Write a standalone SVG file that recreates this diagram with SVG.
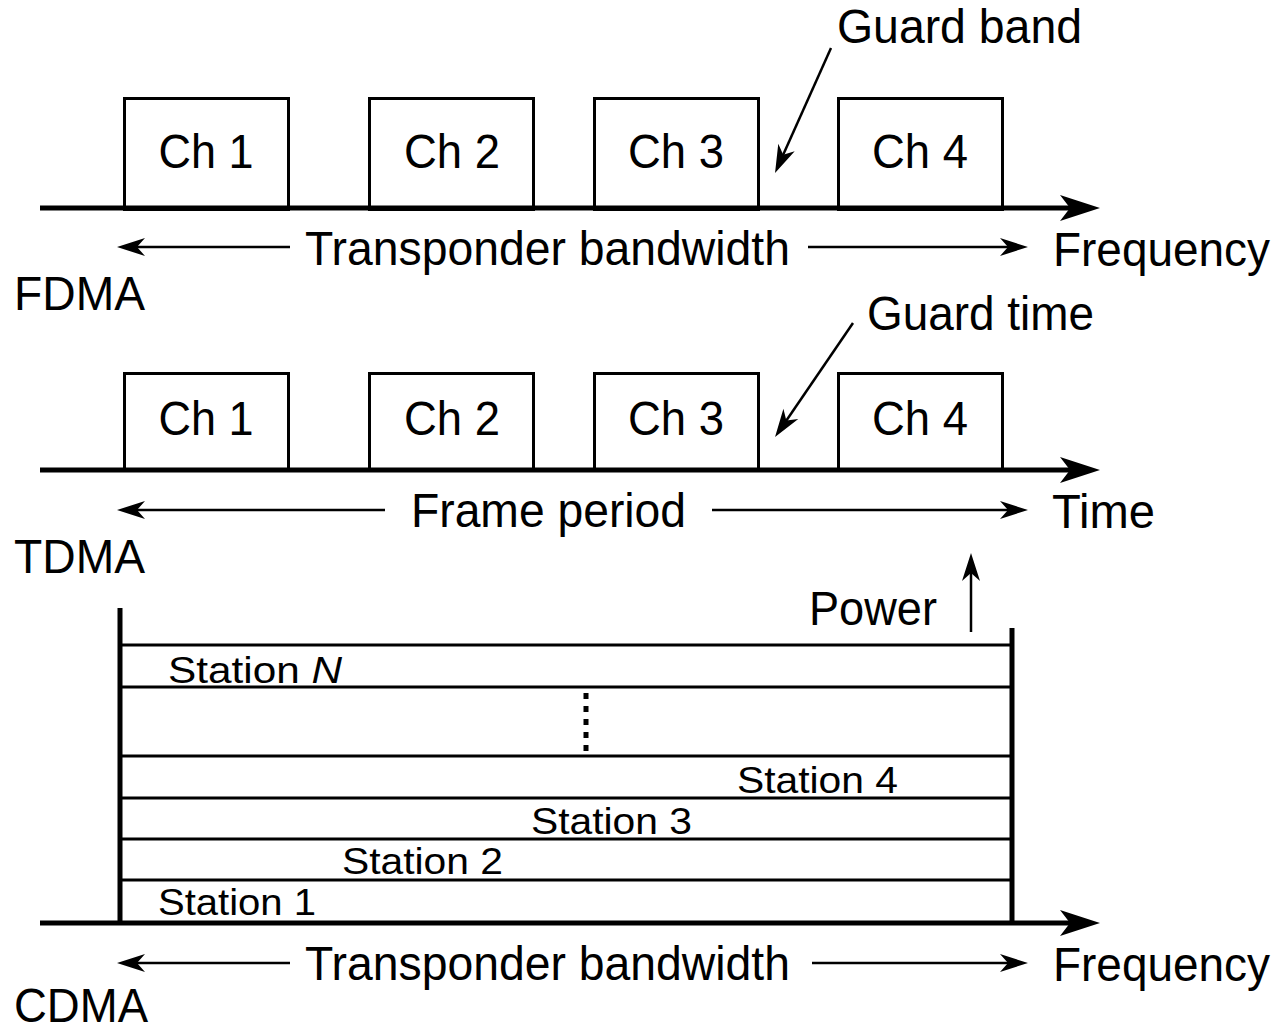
<svg xmlns="http://www.w3.org/2000/svg" width="1278" height="1031" viewBox="0 0 1278 1031">
  <style>
    text { font-family: "Liberation Sans", Arial, Helvetica, sans-serif; fill: #000; }
    .lbl { font-size: 48px; }
    .ch { font-size: 49px; text-anchor: middle; }
    .st { font-size: 37px; }
    .box { fill: #fff; stroke: #000; stroke-width: 3; }
    .axis { stroke: #000; stroke-width: 5; fill: none; }
    .thin { stroke: #000; stroke-width: 2.5; fill: none; }
    .band { stroke: #000; stroke-width: 3; fill: none; }
    .wall { stroke: #000; stroke-width: 5; fill: none; }
  </style>
  <defs>
    <marker id="ahBig" viewBox="-42 -14 44 28" markerWidth="44" markerHeight="28" refX="-28" refY="0" orient="auto" markerUnits="userSpaceOnUse">
      <path d="M0,0 L-40,-13 L-30,0 L-40,13 Z" fill="#000"/>
    </marker>
    <marker id="ah" viewBox="-30 -10 32 20" markerWidth="32" markerHeight="20" refX="-18" refY="0" orient="auto" markerUnits="userSpaceOnUse">
      <path d="M0,0 L-28,-9 L-20,0 L-28,9 Z" fill="#000"/>
    </marker>
  </defs>

  <!-- FDMA -->
  <g id="fdma-ch1"><rect class="box" x="124.5" y="98.5" width="164" height="111"/><text class="ch" x="206" y="168" textLength="95" lengthAdjust="spacingAndGlyphs">Ch 1</text></g>
  <g id="fdma-ch2"><rect class="box" x="369.5" y="98.5" width="164" height="111"/><text class="ch" x="452" y="168" textLength="96" lengthAdjust="spacingAndGlyphs">Ch 2</text></g>
  <g id="fdma-ch3"><rect class="box" x="594.5" y="98.5" width="164" height="111"/><text class="ch" x="676" y="168" textLength="96" lengthAdjust="spacingAndGlyphs">Ch 3</text></g>
  <g id="fdma-ch4"><rect class="box" x="838.5" y="98.5" width="164" height="111"/><text class="ch" x="920" y="168" textLength="96" lengthAdjust="spacingAndGlyphs">Ch 4</text></g>
  <g id="fdma-labels">
    <text class="lbl" x="837" y="43" textLength="245" lengthAdjust="spacingAndGlyphs">Guard band</text>
    <text class="lbl" x="305" y="265" textLength="485" lengthAdjust="spacingAndGlyphs">Transponder bandwidth</text>
    <text class="lbl" x="1053" y="266" textLength="217" lengthAdjust="spacingAndGlyphs">Frequency</text>
    <text class="lbl" x="14" y="310" textLength="131" lengthAdjust="spacingAndGlyphs">FDMA</text>
  </g>

  <!-- TDMA -->
  <g id="tdma-ch1"><rect class="box" x="124.5" y="373.5" width="164" height="97"/><text class="ch" x="206" y="435" textLength="95" lengthAdjust="spacingAndGlyphs">Ch 1</text></g>
  <g id="tdma-ch2"><rect class="box" x="369.5" y="373.5" width="164" height="97"/><text class="ch" x="452" y="435" textLength="96" lengthAdjust="spacingAndGlyphs">Ch 2</text></g>
  <g id="tdma-ch3"><rect class="box" x="594.5" y="373.5" width="164" height="97"/><text class="ch" x="676" y="435" textLength="96" lengthAdjust="spacingAndGlyphs">Ch 3</text></g>
  <g id="tdma-ch4"><rect class="box" x="838.5" y="373.5" width="164" height="97"/><text class="ch" x="920" y="435" textLength="96" lengthAdjust="spacingAndGlyphs">Ch 4</text></g>
  <g id="tdma-labels">
    <text class="lbl" x="867" y="330" textLength="227" lengthAdjust="spacingAndGlyphs">Guard time</text>
    <text class="lbl" x="411" y="527" textLength="275" lengthAdjust="spacingAndGlyphs">Frame period</text>
    <text class="lbl" x="1052" y="528" textLength="103" lengthAdjust="spacingAndGlyphs">Time</text>
    <text class="lbl" x="14" y="573" textLength="131" lengthAdjust="spacingAndGlyphs">TDMA</text>
  </g>

  <!-- CDMA -->
  <g id="cdma-bands">
    <line class="band" x1="120" y1="645" x2="1012" y2="645"/>
    <line class="band" x1="120" y1="687" x2="1012" y2="687"/>
    <line class="band" x1="120" y1="756" x2="1012" y2="756"/>
    <line class="band" x1="120" y1="798" x2="1012" y2="798"/>
    <line class="band" x1="120" y1="839" x2="1012" y2="839"/>
    <line class="band" x1="120" y1="880" x2="1012" y2="880"/>
    <line x1="586" y1="693" x2="586" y2="756" stroke="#000" stroke-width="5" stroke-dasharray="6 7"/>
    <line class="wall" x1="120" y1="608" x2="120" y2="924"/>
    <line class="wall" x1="1012" y1="628" x2="1012" y2="924"/>
  </g>
  <g id="station-n"><text class="st" x="168" y="683" textLength="174" lengthAdjust="spacingAndGlyphs">Station <tspan font-style="italic">N</tspan></text></g>
  <g id="station-4"><text class="st" x="737" y="793" textLength="161" lengthAdjust="spacingAndGlyphs">Station 4</text></g>
  <g id="station-3"><text class="st" x="531" y="834" textLength="161" lengthAdjust="spacingAndGlyphs">Station 3</text></g>
  <g id="station-2"><text class="st" x="342" y="874" textLength="161" lengthAdjust="spacingAndGlyphs">Station 2</text></g>
  <g id="station-1"><text class="st" x="158" y="915" textLength="158" lengthAdjust="spacingAndGlyphs">Station 1</text></g>
  <g id="cdma-labels">
    <text class="lbl" x="809" y="625" textLength="128" lengthAdjust="spacingAndGlyphs">Power</text>
    <text class="lbl" x="305" y="980" textLength="485" lengthAdjust="spacingAndGlyphs">Transponder bandwidth</text>
    <text class="lbl" x="1053" y="981" textLength="217" lengthAdjust="spacingAndGlyphs">Frequency</text>
    <text class="lbl" x="14" y="1022" textLength="134" lengthAdjust="spacingAndGlyphs">CDMA</text>
  </g>

  <!-- connectors -->
  <g id="connectors">
    <line class="axis" x1="40" y1="208" x2="1072" y2="208" marker-end="url(#ahBig)"/>
    <line class="axis" x1="40" y1="470" x2="1072" y2="470" marker-end="url(#ahBig)"/>
    <line class="axis" x1="40" y1="923" x2="1072" y2="923" marker-end="url(#ahBig)"/>

    <line class="thin" x1="290" y1="247" x2="135" y2="247" marker-end="url(#ah)"/>
    <line class="thin" x1="808" y1="247" x2="1010" y2="247" marker-end="url(#ah)"/>
    <line class="thin" x1="385" y1="510" x2="135" y2="510" marker-end="url(#ah)"/>
    <line class="thin" x1="712" y1="510" x2="1010" y2="510" marker-end="url(#ah)"/>
    <line class="thin" x1="290" y1="963" x2="135" y2="963" marker-end="url(#ah)"/>
    <line class="thin" x1="812" y1="963" x2="1010" y2="963" marker-end="url(#ah)"/>

    <line class="thin" x1="831" y1="48" x2="782.4" y2="156.6" marker-end="url(#ah)"/>
    <line class="thin" x1="853" y1="323" x2="785.2" y2="422.2" marker-end="url(#ah)"/>
    <line class="thin" x1="971" y1="632" x2="971" y2="571" marker-end="url(#ah)"/>
  </g>
</svg>
